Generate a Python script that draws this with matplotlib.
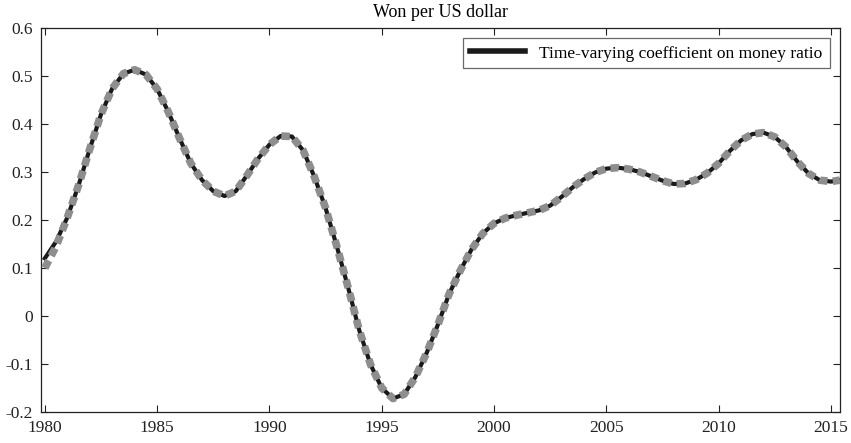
import matplotlib
matplotlib.use('Agg')
import matplotlib.pyplot as plt
import matplotlib.ticker as tck

# values
years = [1980.0, 1980.5, 1981.0, 1981.5, 1982.0, 1982.5, 1983.0, 1983.5, 1984.0,
         1984.5, 1985.0, 1985.5, 1986.0, 1986.5, 1987.0, 1987.5, 1988.0, 1988.5,
         1989.0, 1989.5, 1990.0, 1990.5, 1991.0, 1991.5, 1992.0, 1992.5, 1993.0,
         1993.5, 1994.0, 1994.5, 1995.0, 1995.5, 1996.0, 1996.5, 1997.0, 1997.5,
         1998.0, 1998.5, 1999.0, 1999.5, 2000.0, 2000.5, 2001.0, 2001.5, 2002.0,
         2002.5, 2003.0, 2003.5, 2004.0, 2004.5, 2005.0, 2005.5, 2006.0, 2006.5,
         2007.0, 2007.5, 2008.0, 2008.5, 2009.0, 2009.5, 2010.0, 2010.5, 2011.0,
         2011.5, 2012.0, 2012.5, 2013.0, 2013.5, 2014.0, 2014.5, 2015.0, 2015.4]
coef = [0.120, 0.155, 0.205, 0.272, 0.348, 0.420, 0.474, 0.505, 0.513,
        0.503, 0.473, 0.425, 0.370, 0.318, 0.283, 0.260, 0.250, 0.260,
        0.293, 0.328, 0.357, 0.375, 0.374, 0.345, 0.290, 0.225, 0.145,
        0.060, -0.030, -0.101, -0.150, -0.172, -0.163, -0.127, -0.077, -0.018,
        0.046, 0.095, 0.139, 0.172, 0.193, 0.204, 0.210, 0.215, 0.220,
        0.230, 0.248, 0.268, 0.285, 0.299, 0.307, 0.309, 0.306, 0.300,
        0.291, 0.282, 0.275, 0.276, 0.284, 0.298, 0.318, 0.344, 0.366,
        0.379, 0.382, 0.373, 0.352, 0.322, 0.297, 0.283, 0.280, 0.283]
band = [0.100, 0.145] + coef[2:]

title = 'Won per US dollar'
label = 'Time-varying coefficient on money ratio'

plt.rcParams['font.family'] = ['Liberation Serif', 'DejaVu Serif']
plt.rcParams['axes.unicode_minus'] = False

fig = plt.figure(figsize=(8.51, 4.43), dpi=100)
ax = fig.add_axes([0.0482, 0.070, 0.9388, 0.8668])

ax.plot(years, coef, color='#1a1a1a', lw=3.0, label=label, zorder=2)
ax.plot(years, band, color='#8e8e8e', lw=5.5, linestyle=(0, (1.1, 0.7)),
        dash_capstyle='butt', zorder=3)

ax.set_xlim(1979.83, 2015.4)
ax.set_ylim(-0.2, 0.6)
ax.set_xticks([1980, 1985, 1990, 1995, 2000, 2005, 2010, 2015])
ax.yaxis.set_major_locator(tck.MultipleLocator(0.1))
ax.yaxis.set_major_formatter(tck.FuncFormatter(lambda v, p: '%g' % round(v, 2)))
ax.tick_params(direction='in', top=True, right=True, length=5, width=0.8,
               labelsize=12.5, colors='#222222', pad=6)
for s in ax.spines.values():
    s.set_linewidth(0.9)
    s.set_color('#222222')

ax.set_title(title, fontsize=13, pad=8)

leg = ax.legend(loc='upper right', fontsize=12.5, frameon=True, fancybox=False,
                handlelength=3.2, borderpad=0.4, borderaxespad=0.6)
leg.get_frame().set_edgecolor('#444444')
leg.get_frame().set_linewidth(0.9)
leg.get_lines()[0].set_linewidth(4)

fig.savefig('out.png', dpi=100)
